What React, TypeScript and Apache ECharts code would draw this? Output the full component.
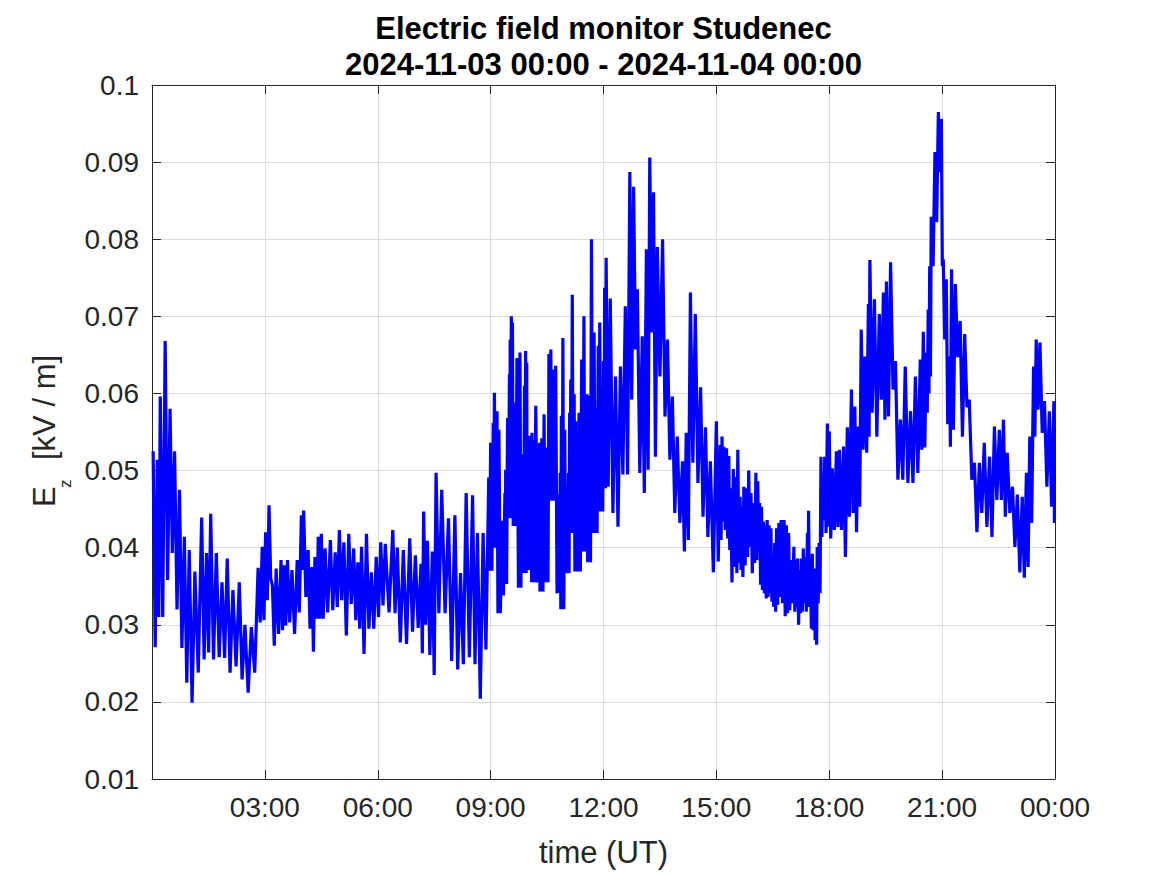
import React, { useEffect, useRef } from "react";
import * as echarts from "echarts";

// time of each reading, hours since 2024-11-03 00:00 UT
const HOURS = [
  0.03, 0.14, 0.22, 0.35, 0.48, 0.6, 0.73, 0.86, 0.99, 1.14,
  1.32, 1.45, 1.56, 1.71, 1.86, 2.0, 2.15, 2.32, 2.47, 2.64,
  2.82, 2.93, 3.02, 3.11, 3.2, 3.3, 3.43, 3.51, 3.6, 3.72,
  3.86, 3.97, 4.03, 4.15, 4.25, 4.33, 4.42, 4.5, 4.6, 4.74,
  4.87, 4.98, 5.1, 5.23, 5.36, 5.47, 5.57, 5.7, 5.83, 5.96,
  6.08, 6.2, 6.4, 6.52, 6.68, 6.85, 7.0, 7.15, 7.22, 7.32,
  7.45, 7.55, 7.7, 7.88, 8.05, 8.2, 8.35, 8.52, 8.65, 8.8,
  8.95, 9.0, 9.07, 9.1, 9.17, 9.22, 9.3, 9.38, 9.4, 9.45,
  9.5, 9.52, 9.55, 9.58, 9.62, 9.65, 9.7, 9.78, 9.83, 9.85,
  9.9, 9.93, 9.96, 9.98, 10.02, 10.08, 10.1, 10.14, 10.2, 10.3,
  10.32, 10.36, 10.42, 10.5, 10.55, 10.6, 10.65, 10.73, 10.8, 10.85,
  10.88, 10.92, 10.97, 11.02, 11.07, 11.1, 11.13, 11.17, 11.22, 11.26,
  11.3, 11.35, 11.42, 11.48, 11.53, 11.56, 11.6, 11.63, 11.68, 11.75,
  11.8, 11.86, 11.9, 11.96, 12.0, 12.03, 12.07,
  12.18, 12.32, 12.45, 12.58, 12.7,
  12.8, 12.9, 13.03, 13.14, 13.23, 13.33, 13.43, 13.57, 13.7, 13.83,
  13.96, 14.1, 14.2, 14.31, 14.44, 14.58, 14.71, 14.84,
  15.0, 15.1, 15.15, 15.2, 15.27, 15.33, 15.38, 15.45, 15.52, 15.57,
  15.63, 15.68, 15.73, 15.8, 15.86, 15.92, 15.99, 16.05, 16.1, 16.15,
  16.2, 16.25, 16.3, 16.35, 16.4, 16.45, 16.5, 16.55, 16.6, 16.66,
  16.72, 16.8, 16.86, 16.92, 16.98, 17.06, 17.11, 17.16, 17.21, 17.26,
  17.31, 17.36, 17.42, 17.45, 17.5, 17.55, 17.6, 17.65, 17.68, 17.73,
  17.78, 17.83, 17.88, 17.95, 18.0, 18.08,
  18.19, 18.27, 18.38, 18.48, 18.59, 18.68, 18.77, 18.85, 18.95, 19.04,
  19.08, 19.2, 19.33, 19.44, 19.52, 19.63, 19.76, 19.89, 20.02, 20.16,
  20.29, 20.42, 20.5, 20.58, 20.63, 20.67, 20.71, 20.81, 20.9, 20.98,
  21.03, 21.11, 21.19, 21.25, 21.35, 21.48, 21.6, 21.72, 21.86, 21.99,
  22.12, 22.26, 22.39, 22.52, 22.63, 22.73, 22.87, 23.0, 23.13, 23.24,
  23.33, 23.43, 23.5, 23.6, 23.72, 23.85, 23.97,
];

// local maxima of Ez [kV/m] around each reading time
const UPPER = [
  0.0525, 0.0514, 0.0596, 0.0668, 0.058, 0.0525, 0.0475, 0.0414, 0.0397, 0.0369,
  0.0439, 0.0393, 0.0444, 0.0393, 0.0355, 0.0386, 0.0345, 0.0355, 0.03, 0.0297,
  0.0374, 0.0401, 0.042, 0.0455, 0.0351, 0.0373, 0.0384, 0.0377, 0.0384, 0.0371,
  0.0384, 0.0442, 0.0448, 0.0397, 0.0375, 0.0388, 0.0414, 0.0418, 0.0399, 0.041,
  0.0394, 0.0423, 0.0407, 0.0418, 0.0399, 0.0381, 0.0401, 0.0418, 0.0368, 0.0388,
  0.0407, 0.0405, 0.0423, 0.04, 0.0397, 0.0412, 0.039, 0.0379, 0.0447, 0.0409,
  0.0395, 0.0497, 0.0475, 0.0438, 0.0442, 0.0367, 0.0471, 0.0468, 0.0419, 0.0419,
  0.0491, 0.0536, 0.0562, 0.0601, 0.0577, 0.0553, 0.0435, 0.0471, 0.0501, 0.0568,
  0.0625, 0.067, 0.07, 0.0692, 0.0549, 0.0588, 0.0646, 0.0653, 0.0521, 0.0486,
  0.061, 0.0655, 0.064, 0.053, 0.0545, 0.0532, 0.0549, 0.054, 0.0584, 0.0536,
  0.0514, 0.0542, 0.0573, 0.053, 0.0651, 0.0657, 0.0631, 0.0636, 0.0469, 0.0497,
  0.0571, 0.0672, 0.0553, 0.0447, 0.0497, 0.0575, 0.0618, 0.0728, 0.0599, 0.0564,
  0.051, 0.0575, 0.0644, 0.07, 0.0547, 0.0599, 0.059, 0.0597, 0.08, 0.0679,
  0.0581, 0.0662, 0.0692, 0.0605, 0.0642, 0.0737, 0.0776,
  0.0723, 0.0622, 0.0635, 0.0713, 0.0887,
  0.0868, 0.0735, 0.0674, 0.0787, 0.0906, 0.0861, 0.079, 0.08, 0.067, 0.0596,
  0.0544, 0.0512, 0.0549, 0.0731, 0.0703, 0.0608, 0.0556, 0.0512,
  0.0564, 0.0533, 0.0544, 0.0531, 0.0529, 0.0519, 0.0477, 0.0502, 0.0492, 0.0527,
  0.0466, 0.0453, 0.0479, 0.0477, 0.05, 0.0471, 0.0458, 0.0497, 0.0486, 0.0458,
  0.0453, 0.0434, 0.0429, 0.0436, 0.0429, 0.0425, 0.0388, 0.0406, 0.0425, 0.0432,
  0.0436, 0.0436, 0.0429, 0.0419, 0.0384, 0.0401, 0.0384, 0.0386, 0.0371, 0.0386,
  0.0399, 0.0388, 0.0419, 0.0448, 0.0371, 0.0392, 0.0373, 0.0358, 0.0401, 0.0406,
  0.0518, 0.0492, 0.0518, 0.0561, 0.0551, 0.0503,
  0.0525, 0.0527, 0.0531, 0.0556, 0.0605, 0.0583, 0.0557, 0.0683, 0.0648, 0.0716,
  0.0773, 0.0722, 0.0703, 0.0731, 0.0745, 0.077, 0.0642, 0.0566, 0.0635, 0.0577,
  0.0622, 0.0644, 0.068, 0.0653, 0.0709, 0.0765, 0.0829, 0.0913, 0.0965, 0.0956,
  0.0774, 0.0748, 0.0648, 0.0761, 0.0742, 0.0694, 0.0677, 0.0592, 0.051, 0.051,
  0.0536, 0.0518, 0.0557, 0.0553, 0.0566, 0.0523, 0.0479, 0.0469, 0.0466, 0.0497,
  0.0544, 0.0635, 0.067, 0.0666, 0.059, 0.0577, 0.059,
];

// local minima of Ez [kV/m] following each reading time
const LOWER = [
  0.0271, 0.031, 0.031, 0.0358, 0.0393, 0.032, 0.027, 0.0225, 0.0199, 0.0238,
  0.0255, 0.0264, 0.0255, 0.0258, 0.0257, 0.0238, 0.0246, 0.0229, 0.0212, 0.0238,
  0.0303, 0.0306, 0.0332, 0.036, 0.0273, 0.0288, 0.0293, 0.0299, 0.0303, 0.0288,
  0.0316, 0.0371, 0.0336, 0.0295, 0.0265, 0.0308, 0.0308, 0.0308, 0.0316, 0.0319,
  0.0323, 0.0332, 0.0286, 0.0327, 0.0306, 0.0295, 0.0262, 0.0295, 0.0295, 0.031,
  0.0325, 0.0316, 0.0315, 0.0277, 0.0275, 0.0291, 0.0296, 0.0263, 0.03, 0.0261,
  0.0235, 0.0315, 0.0315, 0.0253, 0.0242, 0.0249, 0.0258, 0.0249, 0.0204, 0.0268,
  0.037, 0.037, 0.04, 0.04, 0.0315, 0.0315, 0.0338, 0.0353, 0.0353, 0.0438,
  0.0438, 0.0438, 0.0438, 0.0428, 0.0428, 0.0428, 0.0348, 0.0348, 0.0367, 0.0367,
  0.0367, 0.0367, 0.0371, 0.0371, 0.0371, 0.0355, 0.0355, 0.0355, 0.0355, 0.0343,
  0.0343, 0.0343, 0.0355, 0.0355, 0.0461, 0.0461, 0.0461, 0.0341, 0.0341, 0.032,
  0.032, 0.032, 0.0367, 0.0367, 0.0367, 0.0419, 0.0419, 0.0419, 0.0369, 0.0369,
  0.0369, 0.0369, 0.0395, 0.0395, 0.0395, 0.0381, 0.0381, 0.0381, 0.0419, 0.0419,
  0.0419, 0.0447, 0.0447, 0.0447, 0.0477, 0.0477, 0.0479,
  0.0445, 0.0427, 0.0495, 0.0495, 0.0592,
  0.0657, 0.0497, 0.0471, 0.0501, 0.0679, 0.0518, 0.0622, 0.057, 0.0514, 0.0445,
  0.0432, 0.0395, 0.041, 0.051, 0.0484, 0.044, 0.0414, 0.0368,
  0.0382, 0.041, 0.0434, 0.0423, 0.0412, 0.0397, 0.0355, 0.0375, 0.0367, 0.038,
  0.0371, 0.0362, 0.0377, 0.0388, 0.0401, 0.0367, 0.038, 0.0384, 0.0397, 0.0352,
  0.0345, 0.0341, 0.0334, 0.0336, 0.0341, 0.033, 0.0323, 0.0317, 0.0326, 0.0336,
  0.0328, 0.0311, 0.0315, 0.0319, 0.0328, 0.0317, 0.0323, 0.03, 0.0315, 0.0317,
  0.0328, 0.0317, 0.033, 0.0323, 0.0295, 0.0293, 0.028, 0.0274, 0.0328, 0.0341,
  0.0414, 0.0436, 0.0419, 0.0427, 0.0412, 0.0423,
  0.0427, 0.0423, 0.0388, 0.044, 0.0445, 0.042, 0.0453, 0.0527, 0.0523, 0.0544,
  0.0575, 0.0544, 0.0592, 0.0566, 0.057, 0.0605, 0.0488, 0.0488, 0.0484, 0.0484,
  0.0497, 0.0527, 0.053, 0.0575, 0.06, 0.0622, 0.0765, 0.0822, 0.0887, 0.0765,
  0.067, 0.056, 0.0531, 0.0553, 0.0647, 0.0544, 0.0582, 0.0488, 0.042, 0.0445,
  0.0427, 0.0414, 0.0462, 0.0462, 0.044, 0.0445, 0.0401, 0.0368, 0.0361, 0.0375,
  0.0432, 0.0544, 0.0579, 0.0549, 0.0479, 0.0453, 0.0432,
];

const TITLE_LINES = [
  "Electric field monitor Studenec",
  "2024-11-03 00:00 - 2024-11-04 00:00",
];
const X_NAME = "time (UT)";

const FONT = '"Liberation Sans", Arial, Helvetica, sans-serif';
const AXIS_COLOR = "#262626";
const GRID_COLOR = "#dedede";

function buildData(): [number, number][] {
  const pts: [number, number][] = [];
  const n = Math.min(HOURS.length, UPPER.length, LOWER.length);
  for (let i = 0; i < n; i++) {
    const t = HOURS[i];
    const next = i + 1 < n ? HOURS[i + 1] : 24;
    pts.push([t, UPPER[i]]);
    pts.push([(t + next) / 2, LOWER[i]]);
  }
  return pts;
}

function fmtHour(v: number): string {
  if (v === 0) return "";
  const h = Math.round(v) % 24;
  return (h < 10 ? "0" : "") + h + ":00";
}

export default function App() {
  const ref = useRef<HTMLDivElement>(null);

  useEffect(() => {
    if (!ref.current) return;
    const chart = echarts.init(ref.current, undefined, { renderer: "svg" });

    const lineStyle = { color: AXIS_COLOR, width: 1 };
    const tick = { show: true, inside: true, length: 9, lineStyle };

    chart.setOption({
      animation: false,
      backgroundColor: "#ffffff",
      title: {
        text: TITLE_LINES.join("\n"),
        left: 603.5,
        top: 10,
        padding: 0,
        textAlign: "center",
        textStyle: {
          fontSize: 31,
          fontWeight: "bold",
          color: "#000000",
          fontFamily: FONT,
          lineHeight: 36,
        },
      },
      grid: { left: 152, top: 85, right: 112, bottom: 96, containLabel: false },
      xAxis: [
        {
          type: "value",
          min: 0,
          max: 24,
          interval: 3,
          position: "bottom",
          axisLine: { show: true, onZero: false, lineStyle },
          axisTick: tick,
          axisLabel: {
            show: true,
            fontSize: 28,
            color: AXIS_COLOR,
            fontFamily: FONT,
            margin: 14,
            showMinLabel: true,
            showMaxLabel: true,
            hideOverlap: false,
            formatter: (v: number) => fmtHour(v),
          },
          splitLine: { show: true, lineStyle: { color: GRID_COLOR, width: 1 } },
          name: X_NAME,
          nameLocation: "middle",
          nameGap: 58,
          nameTextStyle: { fontSize: 31, color: AXIS_COLOR, fontFamily: FONT },
        },
        {
          type: "value",
          min: 0,
          max: 24,
          interval: 3,
          position: "top",
          axisLine: { show: true, onZero: false, lineStyle },
          axisTick: tick,
          axisLabel: { show: false },
          splitLine: { show: false },
        },
      ],
      yAxis: [
        {
          type: "value",
          min: 0.01,
          max: 0.1,
          interval: 0.01,
          position: "left",
          axisLine: { show: true, onZero: false, lineStyle },
          axisTick: tick,
          axisLabel: {
            show: true,
            fontSize: 28,
            color: AXIS_COLOR,
            fontFamily: FONT,
            margin: 13,
            showMinLabel: true,
            showMaxLabel: true,
            formatter: (v: number) => String(parseFloat(v.toFixed(3))),
          },
          splitLine: { show: true, lineStyle: { color: GRID_COLOR, width: 1 } },
        },
        {
          type: "value",
          min: 0.01,
          max: 0.1,
          interval: 0.01,
          position: "right",
          axisLine: { show: true, onZero: false, lineStyle },
          axisTick: tick,
          axisLabel: { show: false },
          splitLine: { show: false },
        },
      ],
      series: [
        {
          type: "line",
          xAxisIndex: 0,
          yAxisIndex: 0,
          data: buildData(),
          showSymbol: false,
          symbol: "none",
          silent: true,
          lineStyle: { color: "#0000ff", width: 3.2, join: "miter", miterLimit: 3 },
          itemStyle: { color: "#0000ff" },
          z: 3,
        },
      ],
      graphic: [
        {
          type: "group",
          x: 44,
          y: 433,
          rotation: Math.PI / 2,
          children: [
            {
              type: "text",
              x: -74,
              y: 0,
              style: {
                text: "E",
                fontSize: 31,
                fontFamily: FONT,
                fill: AXIS_COLOR,
                align: "left",
                verticalAlign: "middle",
              },
            },
            {
              type: "text",
              x: -55,
              y: 21,
              style: {
                text: "z",
                fontSize: 17,
                fontFamily: FONT,
                fill: AXIS_COLOR,
                align: "left",
                verticalAlign: "middle",
              },
            },
            {
              type: "text",
              x: -27,
              y: 0,
              style: {
                text: "[kV / m]",
                fontSize: 31,
                fontFamily: FONT,
                fill: AXIS_COLOR,
                align: "left",
                verticalAlign: "middle",
              },
            },
          ],
        },
      ],
    });

    return () => chart.dispose();
  }, []);

  return (
    <div
      ref={ref}
      style={{ position: "fixed", left: 0, top: 0, width: 1167, height: 875, background: "#fff" }}
    />
  );
}
